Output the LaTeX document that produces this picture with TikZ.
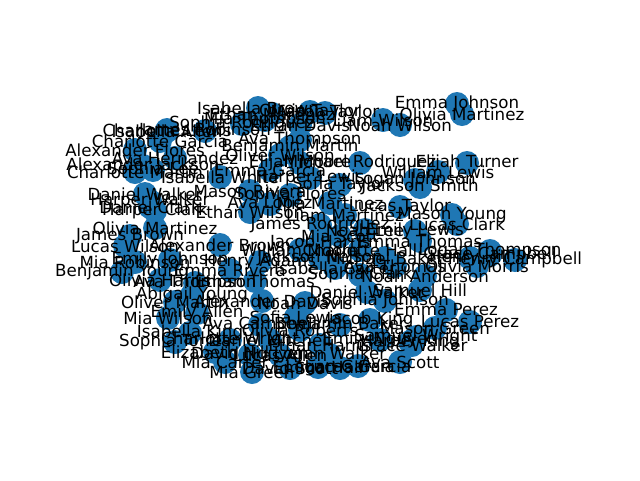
\documentclass[tikz,border=0pt]{standalone}
\usepackage{fontspec}
\setmainfont{DejaVu Sans}
\definecolor{nxblue}{HTML}{1F77B4}
\def\nodelist{%
457/104/Emma Johnson,
462/114/Olivia Martinez,
383/120/Liam Wilson,
325/113/Mason Taylor,
258/108/Isabella Brown,
272/114/Ethan Martinez,
242/124/Sophia Rodriguez,
300/125/Ethan Davis,
400/125/Noah Wilson,
300/140/Ava Thompson,
205/131/James Robinson,
167/131/Isabella Allen,
160/141/Charlotte Garcia,
135/150/Alexander Flores,
175/158/Ava Hernandez,
143/166/Alexander Jackson,
135/172/Charlotte Martin,
220/177/Isabella White,
250/191/Mason Rivera,
145/194/Daniel Walker,
150/201/Harper Walker,
150/207/Daniel Clark,
155/211/Harper Clark,
270/204/Ava Lopez,
250/212/Ethan Wilson,
330/203/Mia Martinez,
360/163/Michael Rodriguez,
467/163/Elijah Turner,
438/172/William Lewis,
415/180/Logan Johnson,
420/187/Jackson Smith,
400/207/Lucas Taylor,
452/215/Mason Young,
457/224/Lucas Clark,
415/231/Emily Lewis,
420/241/Emma Thomas,
320/225/James Rodriguez,
320/243/Jacob Harris,
395/266/Ava Thomas,
360/275/Sophia Clark,
425/276/Noah Anderson,
255/281/Ethan Thomas,
155/228/Olivia Martinez,
130/236/James Brown,
125/246/Lucas Wilson,
135/262/Mia Robinson,
170/260/Emily Johnson,
122/272/Benjamin Young,
160/280/Olivia Harris,
195/283/Ava Thompson,
192/295/Abigail Young,
175/302/Oliver Martin,
262/301/Alexander Davis,
305/303/Noah Davis,
367/292/Daniel Walker,
385/301/Sophia Johnson,
197/313/Emily Allen,
168/318/Mia Wilson,
296/317/Sofia Lewis,
446/310/Emma Perez,
470/322/Lucas Perez,
190/333/Isabella King,
175/342/Sophia Torres,
416/337/Samuel Wright,
412/345/Grace Walker,
215/352/Elizabeth Hill,
250/355/David Nguyen,
225/362/Mia Carter,
252/372/Mia Green,
400/362/Ava Scott,
358/366/Lucas Garcia,
290/368/David Scott,
318/367/Emma Hall,
340/368/Logan Garcia,
490/251/Logan Thompson,
490/255/Grace Campbell,
477/266/Olivia Morris,
515/260/Henry Campbell,
470/258/Henry Hill,
290/147/Benjamin Martin,
280/155/Oliver Wilson,
300/163/Elijah Moore,
270/170/Emma Garcia,
310/178/Harper Lewis,
340/185/Sofia Taylor,
290/195/Sophia Flores,
345/215/Liam Martinez,
365/230/Noah Lee,
340/236/Mia Scott,
300/250/William Moore,
360/250/Charlotte Hall,
320/258/Jackson Nelson,
385/258/Michael Baker,
260/262/Henry Adams,
335/268/Isabella Carter,
220/245/Alexander Brown,
230/270/Emma Rivera,
420/290/Samuel Hill,
300/330/Olivia Roberts,
340/325/Benjamin Baker,
370/320/Jacob King,
260/325/Ava Campbell,
270/340/Daniel Mitchell,
320/345/Ethan Harris,
280/355/Lucas Allen,
330/355/Logan Walker,
380/340/Emily Nguyen,
230/340/Charlotte Wright,
435/328/Mason Green,
410/342/Harper King,
153/170/Sophia Lee,
167/130/Charlotte Lewis,
265/120/Mia Thompson,
310/112/Olivia Taylor%
}
\tikzset{
  dot/.style={circle,fill=nxblue,inner sep=0pt,minimum size=24pt},
  lab/.style={inner sep=0pt,font=\fontsize{16.67}{20}\selectfont,text=black}
}
\begin{document}
\begin{tikzpicture}[x=1pt,y=-1pt]
\useasboundingbox (0,0) rectangle (640,480);
\foreach \px/\py/\t [count=\i] in \nodelist {
  \node[dot] (n\i) at (\px,\py) {};
}
\foreach \px/\py/\t [count=\i] in \nodelist {
  \node[lab] (l\i) at (n\i) {\t};
}
\end{tikzpicture}
\end{document}
